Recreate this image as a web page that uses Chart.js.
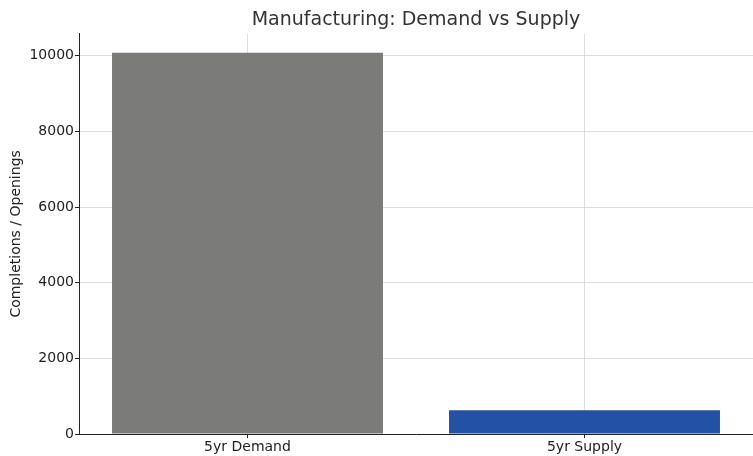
<!DOCTYPE html>
<html>
<head>
<meta charset="utf-8">
<script src="https://cdn.jsdelivr.net/npm/chart.js@4.4.1/dist/chart.umd.min.js"></script>
<style>
  html, body { margin: 0; padding: 0; background: #ffffff; }
  #wrap { width: 753px; height: 456px; }
</style>
</head>
<body>
<div id="wrap"><canvas id="c" width="753" height="456"></canvas></div>
<script>
const categories = ["5yr Demand", "5yr Supply"];
const values = [10080, 630];
const barColors = ["#7b7b79", "#2351a3"];
const yTicks = [0, 2000, 4000, 6000, 8000, 10000];
const yMax = 10580;

const FONT = "'DejaVu Sans', sans-serif";

new Chart(document.getElementById('c'), {
  type: 'bar',
  data: {
    labels: categories,
    datasets: [{
      data: values,
      backgroundColor: barColors,
      borderWidth: 0,
      barPercentage: 0.804,
      categoryPercentage: 1.0
    }]
  },
  options: {
    responsive: false,
    animation: false,
    devicePixelRatio: 1,
    layout: { padding: { left: 0, right: 0, top: 0, bottom: 0 } },
    plugins: {
      legend: { display: false },
      tooltip: { enabled: false },
      title: {
        display: true,
        fullSize: false,
        text: "Manufacturing: Demand vs Supply",
        color: "#333333",
        font: { family: FONT, size: 19, weight: 'normal' },
        padding: { top: 9, bottom: 2 }
      }
    },
    scales: {
      x: {
        z: 1,
        offset: true,
        grid: {
          offset: false,
          color: "#d4d4d4",
          lineWidth: 0.8,
          borderDash: [3, 2],
          tickColor: "#222222",
          tickLength: 4,
          tickBorderDash: [],
          tickWidth: 1
        },
        border: { display: true, color: "#222222", width: 1 },
        ticks: {
          color: "#222222",
          font: { family: FONT, size: 14 },
          padding: 1,
          maxRotation: 0
        },
        afterFit: (s) => { s.height = 22; }
      },
      y: {
        z: 1,
        min: 0,
        max: yMax,
        afterBuildTicks: (s) => { s.ticks = yTicks.map(v => ({ value: v })); },
        grid: {
          color: "#d4d4d4",
          lineWidth: 0.8,
          borderDash: [3, 2],
          tickColor: "#222222",
          tickLength: 4,
          tickBorderDash: [],
          tickWidth: 1
        },
        border: { display: true, color: "#222222", width: 1 },
        ticks: {
          color: "#222222",
          font: { family: FONT, size: 14 },
          padding: 1,
          callback: (v) => String(v)
        },
        title: {
          display: true,
          text: "Completions / Openings",
          color: "#222222",
          font: { family: FONT, size: 14 },
          padding: { top: 8, bottom: 0 }
        },
        afterFit: (s) => { s.width = 79; }
      }
    }
  }
});
</script>
</body>
</html>
